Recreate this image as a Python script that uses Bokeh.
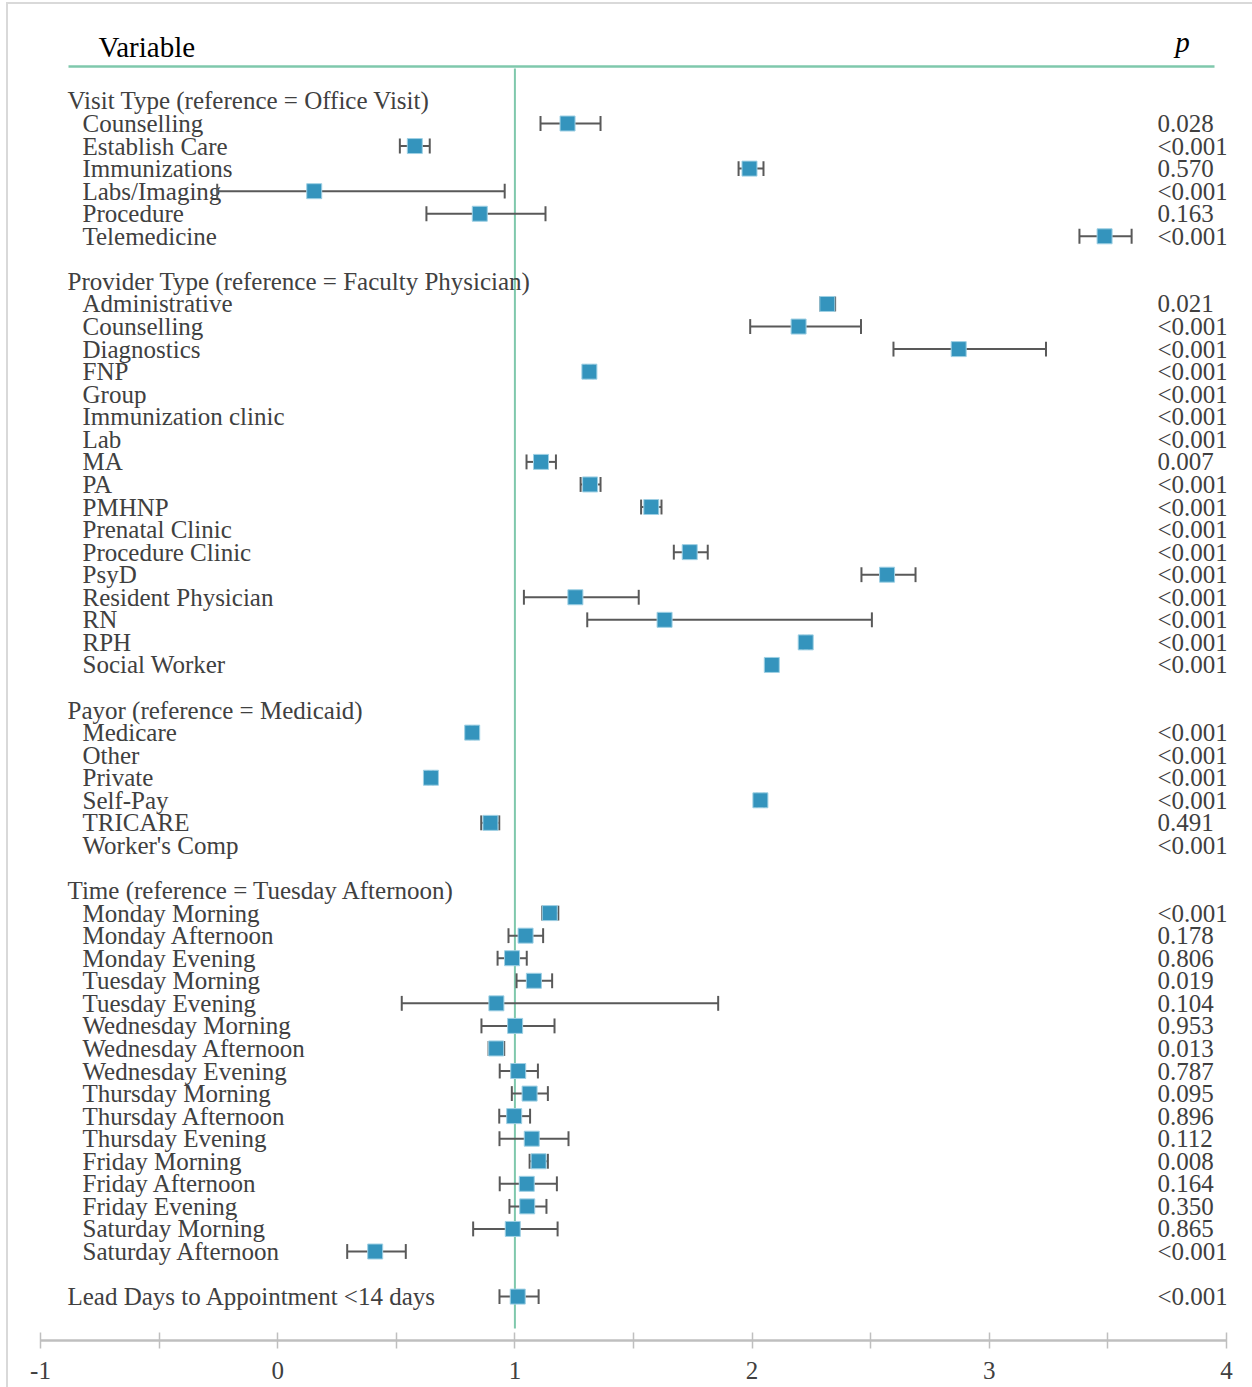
from bokeh.plotting import figure
from bokeh.layouts import column
from bokeh.models import Range1d, FixedTicker, ColumnDataSource
from bokeh.core.properties import value
from bokeh.embed import file_html
from bokeh.resources import INLINE

nan = float("nan")

# ---------------- data ----------------
visit_title = "Visit Type (reference = Office Visit)"
visit_labels = ["Counselling", "Establish Care", "Immunizations", "Labs/Imaging", "Procedure", "Telemedicine"]
visit_est = [1.222, 0.578, 1.989, 0.154, 0.852, 3.486]
visit_lo = [1.108, 0.515, 1.943, -0.255, 0.627, 3.380]
visit_hi = [1.361, 0.641, 2.048, 0.957, 1.129, 3.600]
visit_p = ["0.028", "<0.001", "0.570", "<0.001", "0.163", "<0.001"]

prov_title = "Provider Type (reference = Faculty Physician)"
prov_labels = ["Administrative", "Counselling", "Diagnostics", "FNP", "Group", "Immunization clinic", "Lab",
               "MA", "PA", "PMHNP", "Prenatal Clinic", "Procedure Clinic", "PsyD", "Resident Physician",
               "RN", "RPH", "Social Worker"]
prov_est = [2.317, 2.196, 2.871, 1.314, nan, nan, nan, 1.110, 1.317, 1.575, nan, 1.737, 2.569, 1.255, 1.631, 2.226, 2.083]
prov_lo = [2.287, 1.992, 2.596, 1.300, nan, nan, nan, 1.049, 1.277, 1.532, nan, 1.670, 2.461, 1.038, 1.305, 2.215, 2.081]
prov_hi = [2.350, 2.459, 3.239, 1.330, nan, nan, nan, 1.173, 1.361, 1.618, nan, 1.813, 2.689, 1.522, 2.505, 2.240, 2.085]
prov_p = ["0.021", "<0.001", "<0.001", "<0.001", "<0.001", "<0.001", "<0.001", "0.007", "<0.001", "<0.001",
          "<0.001", "<0.001", "<0.001", "<0.001", "<0.001", "<0.001", "<0.001"]

payor_title = "Payor (reference = Medicaid)"
payor_labels = ["Medicare", "Other", "Private", "Self-Pay", "TRICARE", "Worker's Comp"]
payor_est = [0.820, nan, 0.646, 2.035, 0.897, nan]
payor_lo = [0.810, nan, 0.635, 2.020, 0.858, nan]
payor_hi = [0.830, nan, 0.655, 2.050, 0.934, nan]
payor_p = ["<0.001", "<0.001", "<0.001", "<0.001", "0.491", "<0.001"]

time_title = "Time (reference = Tuesday Afternoon)"
time_labels = ["Monday Morning", "Monday Afternoon", "Monday Evening", "Tuesday Morning", "Tuesday Evening",
               "Wednesday Morning", "Wednesday Afternoon", "Wednesday Evening", "Thursday Morning",
               "Thursday Afternoon", "Thursday Evening", "Friday Morning", "Friday Afternoon", "Friday Evening",
               "Saturday Morning", "Saturday Afternoon"]
time_est = [1.147, 1.045, 0.988, 1.080, 0.922, 1.001, 0.921, 1.014, 1.062, 0.997, 1.071, 1.100, 1.050, 1.052, 0.991, 0.411]
time_lo = [1.115, 0.973, 0.927, 1.007, 0.523, 0.859, 0.889, 0.936, 0.987, 0.934, 0.935, 1.062, 0.936, 0.977, 0.824, 0.293]
time_hi = [1.183, 1.119, 1.050, 1.157, 1.857, 1.167, 0.955, 1.097, 1.139, 1.064, 1.226, 1.139, 1.177, 1.133, 1.180, 0.540]
time_p = ["<0.001", "0.178", "0.806", "0.019", "0.104", "0.953", "0.013", "0.787", "0.095", "0.896", "0.112",
          "0.008", "0.164", "0.350", "0.865", "<0.001"]

lead_title = "Lead Days to Appointment <14 days"
lead_est = [1.012]
lead_lo = [0.935]
lead_hi = [1.100]
lead_p = ["<0.001"]

tick_values = [-1, 0, 1, 2, 3, 4]
minor_tick_values = [-0.5, 0.5, 1.5, 2.5, 3.5]

# ---------------- build rows ----------------
groups = [
    (visit_title, visit_labels, visit_est, visit_lo, visit_hi, visit_p),
    (prov_title, prov_labels, prov_est, prov_lo, prov_hi, prov_p),
    (payor_title, payor_labels, payor_est, payor_lo, payor_hi, payor_p),
    (time_title, time_labels, time_est, time_lo, time_hi, time_p),
]

hdr_y, hdr_t = [], []
item_y, item_t = [], []
pt_y, pt_est, pt_lo, pt_hi, pt_p = [], [], [], [], []

row = -1
for title, labels, est, lo, hi, pv in groups:
    hdr_y.append(row); hdr_t.append(title)
    row += 1
    for i, lab in enumerate(labels):
        item_y.append(row); item_t.append(lab)
        pt_y.append(row); pt_est.append(est[i]); pt_lo.append(lo[i]); pt_hi.append(hi[i]); pt_p.append(pv[i])
        row += 1
    row += 1
hdr_y.append(row); hdr_t.append(lead_title)
pt_y.append(row); pt_est.append(lead_est[0]); pt_lo.append(lead_lo[0]); pt_hi.append(lead_hi[0]); pt_p.append(lead_p[0])

# ---------------- layout constants (page pixels) ----------------
OFF_X, OFF_Y = 8, 4            # figure origin on page (inside light border)
W, H = 1252 - OFF_X, 1387 - OFF_Y
FRAME_L, FRAME_R = 40, 1226
FRAME_T, FRAME_B = 10, 1340
X0, X1 = -1, 4
ROW_PX = 22.56
ROW0_PX = 123.0


def px_to_x(px):
    return X0 + (px - FRAME_L) * (X1 - X0) / (FRAME_R - FRAME_L)


def py_to_y(py):
    return (py - ROW0_PX) / ROW_PX


FONT = value("Liberation Serif")
TXT = "#404040"
GREEN = "#7fc8ac"
BLUE = "#3494bd"
BAR = "#595959"
FS = "25px"

p = figure(width=W, height=H, output_backend="svg", toolbar_location=None,
           x_range=Range1d(X0, X1), y_range=Range1d(py_to_y(FRAME_B), py_to_y(FRAME_T)),
           y_axis_location=None,
           min_border_left=FRAME_L - OFF_X, min_border_right=(1252 - FRAME_R),
           min_border_top=FRAME_T - OFF_Y, min_border_bottom=1387 - FRAME_B)
p.xgrid.visible = False
p.ygrid.visible = False
p.outline_line_color = None
p.background_fill_color = "white"
p.border_fill_color = "white"

# header rule and titles
p.segment(x0=[px_to_x(68)], x1=[px_to_x(1214)], y0=[py_to_y(66)], y1=[py_to_y(66)],
          line_color=GREEN, line_width=2.5)
p.text(x=[px_to_x(98)], y=[py_to_y(46)], text=["Variable"], text_font=FONT, text_font_size="29px",
       text_color="#000000", text_baseline="middle", text_align="left")
p.text(x=[px_to_x(1182)], y=[py_to_y(41)], text=["p"], text_font=FONT, text_font_size="29px",
       text_font_style="italic", text_color="#000000", text_baseline="middle", text_align="center")

# reference line at 1
p.segment(x0=[1], x1=[1], y0=[py_to_y(68)], y1=[py_to_y(1328)], line_color=GREEN, line_width=2)

# labels
p.text(x=X0, y=hdr_y, text=hdr_t, x_offset=27, text_font=FONT, text_font_size=FS,
       text_color=TXT, text_baseline="middle", text_align="left")
p.text(x=X0, y=item_y, text=item_t, x_offset=42, text_font=FONT, text_font_size=FS,
       text_color=TXT, text_baseline="middle", text_align="left")
p.text(x=X1, y=pt_y, text=pt_p, x_offset=-69, text_font=FONT, text_font_size=FS,
       text_color=TXT, text_baseline="middle", text_align="left")

# error bars
src = ColumnDataSource(dict(y=pt_y, est=pt_est, lo=pt_lo, hi=pt_hi,
                            ylo=[v + 0.33 for v in pt_y], yhi=[v - 0.33 for v in pt_y]))
p.segment(x0="lo", x1="hi", y0="y", y1="y", source=src, line_color=BAR, line_width=2)
p.segment(x0="lo", x1="lo", y0="ylo", y1="yhi", source=src, line_color=BAR, line_width=2)
p.segment(x0="hi", x1="hi", y0="ylo", y1="yhi", source=src, line_color=BAR, line_width=2)
p.scatter(x="est", y="y", source=src, marker="square", size=15, fill_color=BLUE,
          line_color="#9fd0e4", line_width=1)

# x axis
ax = p.xaxis[0]
ax.ticker = FixedTicker(ticks=tick_values, minor_ticks=minor_tick_values)
ax.major_label_overrides = {t: str(t) for t in tick_values}
ax.axis_line_color = "#bfbfbf"
ax.axis_line_width = 2.5
ax.major_tick_line_color = "#bfbfbf"
ax.minor_tick_line_color = "#bfbfbf"
ax.major_tick_line_width = 1.5
ax.minor_tick_line_width = 1.5
ax.major_tick_in = 8
ax.major_tick_out = 8
ax.minor_tick_in = 8
ax.minor_tick_out = 8
ax.major_label_text_font = "Liberation Serif"
ax.major_label_text_font_size = "25px"
ax.major_label_text_color = TXT
ax.major_label_standoff = 13

page = column(p, styles={"border-left": "2px solid #d9d9d9", "border-top": "2px solid #d9d9d9",
                         "margin-left": "6px", "margin-top": "2px"})

open("out.html", "w").write(file_html(page, INLINE))
